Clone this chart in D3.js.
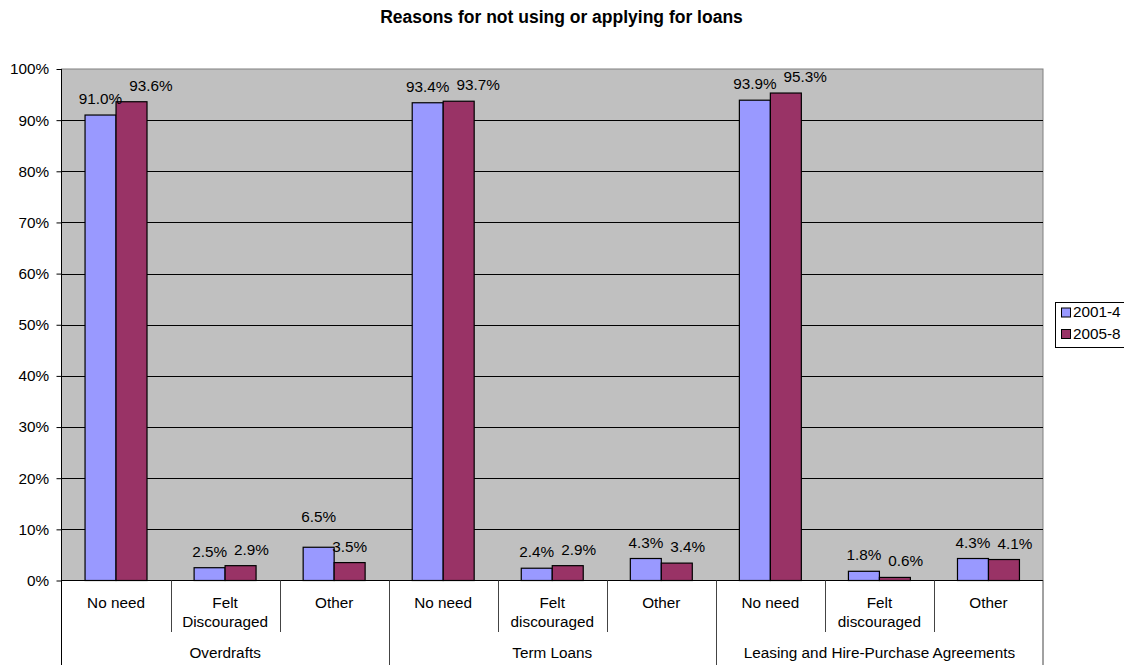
<!DOCTYPE html>
<html>
<head>
<meta charset="utf-8">
<script src="https://cdn.jsdelivr.net/npm/d3@7"></script>
<style>
  html, body { margin: 0; padding: 0; background: #fff; }
  svg { display: block; font-family: Arial, "Liberation Sans", sans-serif; }
</style>
</head>
<body>
<svg id="chart" width="1124" height="665"></svg>
<script>
const title = "Reasons for not using or applying for loans";
const groups = ["Overdrafts", "Term Loans", "Leasing and Hire-Purchase Agreements"];
const categories = [
  ["No need"], ["Felt", "Discouraged"], ["Other"],
  ["No need"], ["Felt", "discouraged"], ["Other"],
  ["No need"], ["Felt", "discouraged"], ["Other"]
];
const seriesNames = ["2001-4", "2005-8"];
const series2001 = [91.0, 2.5, 6.5, 93.4, 2.4, 4.3, 93.9, 1.8, 4.3];
const series2005 = [93.6, 2.9, 3.5, 93.7, 2.9, 3.4, 95.3, 0.6, 4.1];
const seriesColors = ["#9999FF", "#993366"];
const yTicks = [0, 10, 20, 30, 40, 50, 60, 70, 80, 90, 100];

(function () {
const svg = d3.select("#chart");
const pLeft = 61.5, pRight = 1043, pTop = 69, pBottom = 580.5;
const font = 15.3;

const x = d3.scaleBand().domain(d3.range(categories.length)).range([pLeft, pRight]).padding(0);
const xs = d3.scaleBand().domain([0, 1]).range([0, x.bandwidth()]).paddingInner(0).paddingOuter(0.76);
const y = d3.scaleLinear().domain([0, 100]).range([pBottom, pTop]);

// title
svg.append("text").attr("x", 561.5).attr("y", 23).attr("text-anchor", "middle")
  .attr("font-weight", "bold").attr("font-size", 17.5).text(title);

// plot background
svg.append("rect").attr("x", pLeft).attr("y", pTop).attr("width", pRight - pLeft).attr("height", pBottom - pTop)
  .attr("fill", "#C0C0C0").attr("stroke", "#808080").attr("stroke-width", 1);

// gridlines
svg.append("g").selectAll("line").data(yTicks.filter(t => t > 0 && t < 100)).join("line")
  .attr("x1", pLeft).attr("x2", pRight).attr("y1", d => Math.round(y(d)) + 0.5).attr("y2", d => Math.round(y(d)) + 0.5)
  .attr("stroke", "#000").attr("stroke-width", 1);

// y axis
const yAxis = d3.axisLeft(y).tickValues(yTicks).tickFormat(d => d + "%").tickSize(5).tickPadding(7.5);
const gy = svg.append("g").attr("transform", `translate(${pLeft},0)`).call(yAxis);
gy.select(".domain").remove();
gy.selectAll(".tick line").attr("stroke", "#000");
gy.selectAll(".tick text").attr("font-size", font).attr("fill", "#000").attr("font-family", "Arial, 'Liberation Sans', sans-serif");
svg.append("line").attr("x1", pLeft).attr("x2", pLeft).attr("y1", pTop).attr("y2", 665).attr("stroke", "#000");

// bars
const data = [];
categories.forEach((c, i) => {
  [series2001, series2005].forEach((s, k) => data.push({ i, k, v: s[i] }));
});
svg.append("g").selectAll("rect").data(data).join("rect")
  .attr("x", d => x(d.i) + xs(d.k))
  .attr("y", d => y(d.v))
  .attr("width", xs.bandwidth())
  .attr("height", d => pBottom - y(d.v))
  .attr("fill", d => seriesColors[d.k])
  .attr("stroke", "#000").attr("stroke-width", 1.2);

// value labels (centred above bars; simple collision avoidance between the pair)
const labG = svg.append("g");
categories.forEach((c, i) => {
  const vals = [series2001[i], series2005[i]];
  const nodes = vals.map((v, k) => labG.append("text")
    .attr("x", x(i) + xs(k) + xs.bandwidth() / 2)
    .attr("y", y(v) - 11)
    .attr("text-anchor", "middle").attr("font-size", font).attr("fill", "#000")
    .text(v.toFixed(1) + "%"));
  const w0 = nodes[0].node().getComputedTextLength();
  const w1 = nodes[1].node().getComputedTextLength();
  const c0 = x(i) + xs(0) + xs.bandwidth() / 2, c1 = x(i) + xs(1) + xs.bandwidth() / 2;
  const dy = Math.abs(y(vals[0]) - y(vals[1]));
  const right0 = c0 + w0 / 2;
  const hOverlap = c1 - w1 / 2 < right0 + 7;
  if (dy < 13.5 && hOverlap) {
    nodes[1].attr("x", right0 + 7 + w1 / 2);
  } else if (dy < 17 && hOverlap && vals[0] > vals[1]) {
    nodes[0].attr("y", y(vals[0]) - 11 - 14);
  }
});

// x axis line
svg.append("line").attr("x1", pLeft).attr("x2", pRight).attr("y1", pBottom).attr("y2", pBottom).attr("stroke", "#000");

// category separators
const sepG = svg.append("g");
d3.range(1, categories.length).forEach(i => {
  const xx = Math.round(x(i)) + 0.5;
  const isGroup = i % 3 === 0;
  sepG.append("line").attr("x1", xx).attr("x2", xx).attr("y1", pBottom).attr("y2", isGroup ? 665 : 632)
    .attr("stroke", "#444").attr("stroke-width", 1);
});
sepG.append("line").attr("x1", pRight).attr("x2", pRight).attr("y1", pBottom).attr("y2", 665).attr("stroke", "#444");

// category labels
categories.forEach((lines, i) => {
  const t = svg.append("text").attr("text-anchor", "middle").attr("font-size", font).attr("fill", "#000");
  lines.forEach((ln, j) => {
    t.append("tspan").attr("x", x(i) + x.bandwidth() / 2).attr("y", 608 + j * 19).text(ln);
  });
});

// group labels
groups.forEach((g, gi) => {
  const x0 = x(gi * 3), x1 = x(gi * 3 + 2) + x.bandwidth();
  svg.append("text").attr("x", (x0 + x1) / 2).attr("y", 658).attr("text-anchor", "middle")
    .attr("font-size", font).attr("fill", "#000").text(g);
});

// legend
const lg = svg.append("g");
lg.append("rect").attr("x", 1055.5).attr("y", 302.5).attr("width", 70).attr("height", 45)
  .attr("fill", "#fff").attr("stroke", "#000");
seriesNames.forEach((n, k) => {
  lg.append("rect").attr("x", 1061.5).attr("y", 308 + k * 21.5).attr("width", 9).attr("height", 9)
    .attr("fill", seriesColors[k]).attr("stroke", "#000");
  lg.append("text").attr("x", 1073).attr("y", 317 + k * 21.5).attr("font-size", font).attr("fill", "#000").text(n);
});
})();
</script>
</body>
</html>
